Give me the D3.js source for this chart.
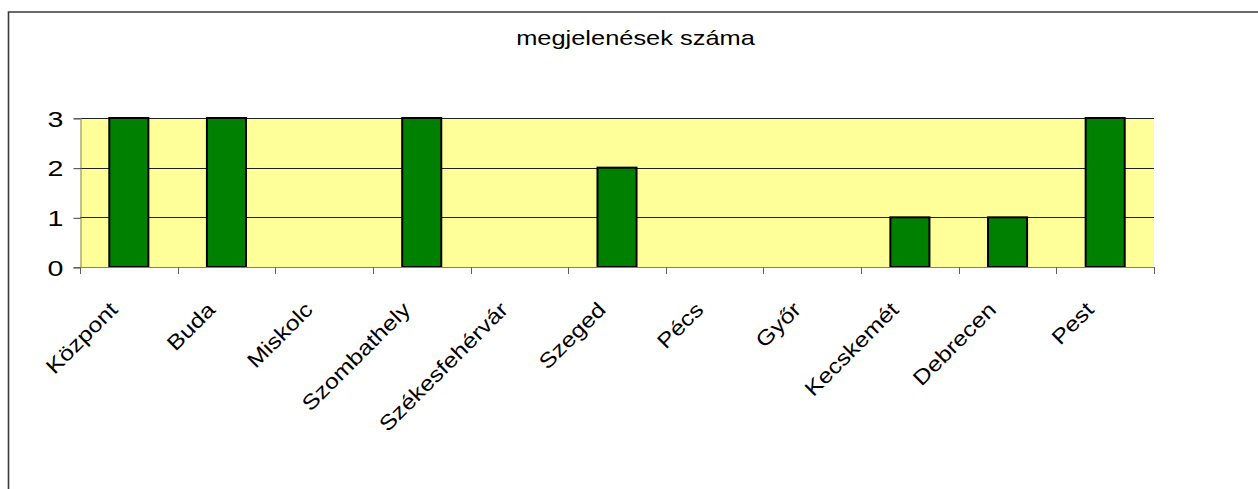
<!DOCTYPE html>
<html><head><meta charset="utf-8">
<script src="https://cdn.jsdelivr.net/npm/d3@7"></script>
<style>body{margin:0;background:#fff}svg{display:block}text{font-family:"Liberation Sans",Arial,sans-serif;fill:#000}</style>
</head><body>
<script>
const title = "megjelenések száma";
const categories = ["Központ","Buda","Miskolc","Szombathely","Székesfehérvár","Szeged","Pécs","Győr","Kecskemét","Debrecen","Pest"];
const values = [3,3,0,3,0,2,0,0,1,1,3];
const yTicks = [0,1,2,3];

const W = 1258, H = 489;
const svg = d3.select("body").append("svg").attr("width", W).attr("height", H);

// outer frame (left + top only visible)
svg.append("path").attr("d", `M8.5,${H+5} V12 H${W+5}`).attr("fill","none").attr("stroke","#3a3a3a").attr("stroke-width",1.6);

const x = d3.scaleBand().domain(categories).range([80,1154]).paddingInner(0.6).paddingOuter(0.3);
const xs = d3.scaleBand().domain(categories).range([80,1154]);
const y = d3.scaleLinear().domain([0,3]).range([267,118]);

svg.append("rect").attr("x",80).attr("y",y(3)).attr("width",1154-80).attr("height",y(0)-y(3)).attr("fill","#FFFF99");

// gridlines
svg.append("g").selectAll("line").data(yTicks.filter(d=>d>0)).join("line")
  .attr("x1",80).attr("x2",1154).attr("y1",d=>Math.round(y(d))+0.5).attr("y2",d=>Math.round(y(d))+0.5)
  .attr("stroke","#222").attr("stroke-width",1);

// y axis
const ya = svg.append("g").attr("transform","translate(80.5,0)")
  .call(d3.axisLeft(y).tickValues(yTicks).tickFormat(d3.format("d")).tickSize(7).tickPadding(0));
ya.select(".domain").attr("stroke","#808080");
ya.selectAll(".tick line").attr("stroke","#404040").attr("transform","translate(0,0.5)");
ya.selectAll(".tick text").remove();
ya.selectAll(".tick").append("text")
  .attr("transform","translate(-17,8) scale(1.3,1)")
  .attr("text-anchor","end").style("font-size","22px").text(d=>d);

// bars
svg.append("g").selectAll("rect").data(categories.map((c,i)=>({c,v:values[i]})).filter(d=>d.v>0)).join("rect")
  .attr("x",d=>x(d.c)).attr("width",x.bandwidth())
  .attr("y",d=>y(d.v)).attr("height",d=>y(0)-y(d.v))
  .attr("fill","#008000").attr("stroke","#000").attr("stroke-width",2);

// x axis
const xa = svg.append("g").attr("transform","translate(0,267.5)")
  .call(d3.axisBottom(xs).tickSize(0).tickFormat(""));
xa.select(".domain").attr("stroke","#808080").attr("d","M80,0H1154");
xa.selectAll(".tick").remove();
svg.append("g").selectAll("line").data(categories.concat(["_end"])).join("line")
  .attr("x1",(d,i)=>Math.round(80 + i*xs.step())+0.5).attr("x2",(d,i)=>Math.round(80 + i*xs.step())+0.5)
  .attr("y1",267).attr("y2",274).attr("stroke","#606060");

// category labels
svg.append("g").selectAll("text").data(categories).join("text")
  .attr("transform",d=>`translate(${xs(d)+xs.bandwidth()/2-10},311) rotate(-45) scale(1.18,1)`)
  .attr("text-anchor","end").style("font-size","21px").text(d=>d);

// title
svg.append("text").attr("transform",`translate(635.5,45) scale(1.24,1)`)
  .attr("text-anchor","middle").style("font-size","20.5px").text(title);
</script>
</body></html>
